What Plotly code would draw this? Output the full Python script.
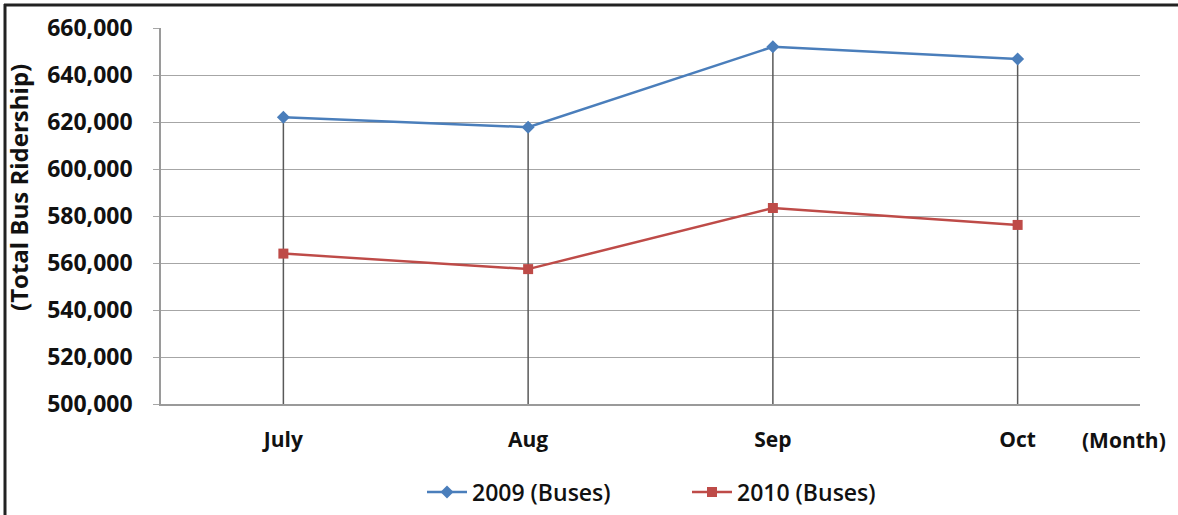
import plotly.graph_objects as go

months = ["July", "Aug", "Sep", "Oct"]
series_2009 = [622000, 617800, 652000, 646800]
series_2010 = [564000, 557400, 583400, 576200]
y_ticks = [500000, 520000, 540000, 560000, 580000, 600000, 620000, 640000, 660000]
y_tick_labels = [f"{v:,}" for v in y_ticks]

W, H = 1178, 515
L, R, T, B = 161, 38, 28, 111
pw, ph = W - L - R, H - T - B

def px(x):
    return (x - L) / pw

def py(y):
    return (H - B - y) / ph

FONT = "Open Sans"
BLUE = "#4A7EBB"
RED = "#BE4B48"

drop_x, drop_y = [], []
for m, a, b in zip(months, series_2009, series_2010):
    drop_x += [m, m, None]
    drop_y += [max(a, b), y_ticks[0], None]

fig = go.Figure()
fig.add_trace(go.Scatter(x=drop_x, y=drop_y, mode="lines",
                         line=dict(color="#595959", width=1.5),
                         showlegend=False, hoverinfo="skip"))
fig.add_trace(go.Scatter(x=months, y=series_2009, name="2009 (Buses)",
                         mode="lines+markers",
                         line=dict(color=BLUE, width=2.5),
                         marker=dict(symbol="diamond", size=10, color=BLUE)))
fig.add_trace(go.Scatter(x=months, y=series_2010, name="2010 (Buses)",
                         mode="lines+markers",
                         line=dict(color=RED, width=2.5),
                         marker=dict(symbol="square", size=10, color=RED)))

fig.update_layout(
    width=W, height=H,
    margin=dict(l=L, r=R, t=T, b=B, autoexpand=False),
    paper_bgcolor="white", plot_bgcolor="white",
    font=dict(family=FONT, color="#111111"),
    showlegend=True,
    legend=dict(orientation="h", x=px(422), xanchor="left",
                y=py(492), yanchor="middle",
                font=dict(size=23, family=FONT, weight=600, color="#111111"),
                itemwidth=40, entrywidth=210, entrywidthmode="pixels"),
    xaxis=dict(type="category", range=[-0.5, 3.5], automargin=False,
               showgrid=False, showline=True, linecolor="#9a9a9a", linewidth=1.5,
               ticks="", ticklabelstandoff=16,
               tickfont=dict(size=21, family=FONT, weight="bold", color="#111111")),
    yaxis=dict(range=[500000, 660000], tickvals=y_ticks, ticktext=y_tick_labels,
               automargin=False,
               showgrid=True, gridcolor="#a6a6a6", gridwidth=1.2,
               showline=True, linecolor="#9a9a9a", linewidth=1.5,
               ticks="outside", ticklen=6, tickcolor="#a6a6a6",
               ticklabelstandoff=16, zeroline=False,
               tickfont=dict(size=23, family=FONT, weight="bold", color="#111111")),
    annotations=[
        dict(text="(Total Bus Ridership)", xref="paper", yref="paper",
             x=px(19), y=py(188), textangle=-90, showarrow=False,
             xanchor="center", yanchor="middle",
             font=dict(size=24, family=FONT, weight="bold", color="#111111")),
        dict(text="(Month)", xref="paper", yref="paper",
             x=px(1124), y=py(440), showarrow=False,
             xanchor="center", yanchor="middle",
             font=dict(size=21, family=FONT, weight="bold", color="#111111")),
    ],
    shapes=[
        dict(type="line", xref="paper", yref="paper",
             x0=px(4), x1=px(W), y0=py(5), y1=py(5),
             line=dict(color="#222222", width=3)),
        dict(type="line", xref="paper", yref="paper",
             x0=px(5), x1=px(5), y0=py(4), y1=py(H),
             line=dict(color="#222222", width=3)),
    ],
)

fig.write_html("out.html")
